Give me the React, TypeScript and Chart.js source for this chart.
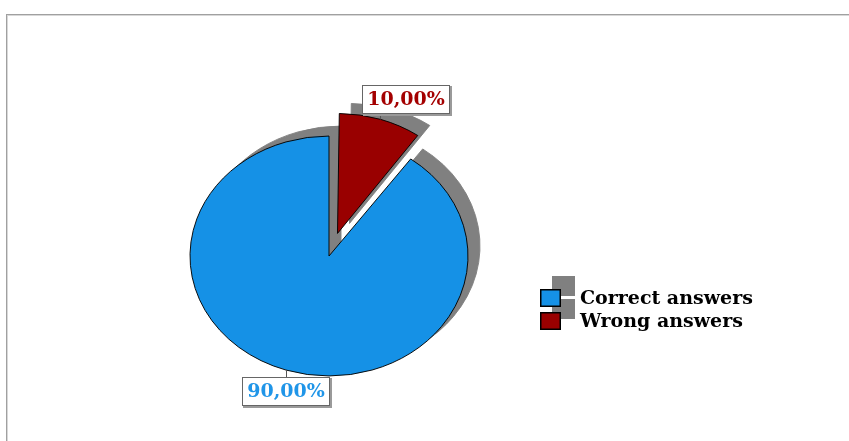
import React, { useEffect, useRef } from 'react';
import { Chart, registerables } from 'chart.js';

Chart.register(...registerables);

// ---- data ----
const categories = ['Correct answers', 'Wrong answers'];
const values = [90, 10];
const percentLabels = ['90,00%', '10,00%'];
const sliceColors = ['#1591e6', '#990000'];
const labelTextColors = ['#1f95e8', '#a40000'];
const sliceOffsets = [0, 110];

// ---- style ----
const W = 849;
const H = 441;
const Y_SCALE = 0.863;
const SHADOW_DX = 12;
const SHADOW_DY = -10;
const SHADOW = '#808080';
const FONT = "bold 19px 'DejaVu Serif'";
const LABEL_SHIFT = [
  { dx: 0, dy: 21 },
  { dx: 26, dy: -20 },
];

function arcFix(el: any) {
  const c = el.endAngle - el.startAngle;
  return 1 - Math.sin(Math.min(Math.PI, c));
}

function ellipse(ctx: CanvasRenderingContext2D, cx: number, cy: number) {
  ctx.translate(cx, cy);
  ctx.scale(1, Y_SCALE);
  ctx.translate(-cx, -cy);
}

const decor = {
  id: 'decor',
  afterDatasetsUpdate(chart: any) {
    const meta = chart.getDatasetMeta(0);
    meta.data.forEach((el: any) => {
      const off = (el.options.offset || 0) / 4;
      el.outerRadius = el.outerRadius - off * arcFix(el);
    });
  },
  beforeDraw(chart: any) {
    const ctx = chart.ctx as CanvasRenderingContext2D;
    ctx.save();
    ctx.fillStyle = '#ffffff';
    ctx.fillRect(0, 0, W, H);
    ctx.fillStyle = '#a0a0a0';
    ctx.fillRect(6, 14, W, 1);
    ctx.fillRect(6, 14, 1, H);
    ctx.fillStyle = '#d8d8d8';
    ctx.fillRect(7, 15, W, 1);
    ctx.fillRect(7, 15, 1, H);
    ctx.restore();
  },
  beforeDatasetsDraw(chart: any) {
    const ctx = chart.ctx as CanvasRenderingContext2D;
    const meta = chart.getDatasetMeta(0);
    const cx = meta.data[0].x;
    const cy = meta.data[0].y;
    ctx.save();
    ctx.translate(SHADOW_DX, SHADOW_DY);
    ellipse(ctx, cx, cy);
    meta.data.forEach((el: any) => {
      const o = el.options;
      el.options = Object.assign({}, o, { backgroundColor: SHADOW, borderColor: SHADOW });
      el.draw(ctx);
      el.options = o;
    });
    ctx.restore();
    ctx.save();
    ellipse(ctx, cx, cy);
  },
  afterDatasetsDraw(chart: any) {
    const ctx = chart.ctx as CanvasRenderingContext2D;
    ctx.restore();
    const meta = chart.getDatasetMeta(0);
    const cy = meta.data[0].y;
    ctx.save();
    meta.data.forEach((el: any, i: number) => {
      const a = (el.startAngle + el.endAngle) / 2;
      const t = (el.options.offset || 0) / 4;
      const r = el.outerRadius + t * arcFix(el);
      const ax = el.x + Math.cos(a) * (t + r);
      const ay = cy + (el.y + Math.sin(a) * (t + r) - cy) * Y_SCALE;
      ctx.font = FONT;
      const tw = ctx.measureText(percentLabels[i]).width;
      const bw = Math.round(tw + 10);
      const bh = 29;
      const bx = Math.round(ax + LABEL_SHIFT[i].dx - bw / 2);
      const by = Math.round(ay + LABEL_SHIFT[i].dy - bh / 2);
      // leader
      ctx.strokeStyle = '#555555';
      ctx.lineWidth = 1;
      ctx.beginPath();
      const lx = Math.round(ax) + 0.5;
      ctx.moveTo(lx, ay);
      ctx.lineTo(lx, ay < by ? by : by + bh);
      ctx.stroke();
      // box
      ctx.fillStyle = '#9a9a9a';
      ctx.fillRect(bx + 1, by + 1, bw + 1, bh + 1);
      ctx.fillStyle = '#ffffff';
      ctx.fillRect(bx, by, bw, bh);
      ctx.strokeStyle = '#666666';
      ctx.strokeRect(bx + 0.5, by + 0.5, bw - 1, bh - 1);
      ctx.fillStyle = labelTextColors[i];
      ctx.textAlign = 'center';
      ctx.textBaseline = 'middle';
      ctx.fillText(percentLabels[i], bx + bw / 2, by + bh / 2 + 1);
    });
    ctx.restore();
  },
  afterDraw(chart: any) {
    const ctx = chart.ctx as CanvasRenderingContext2D;
    const lx = 540;
    const ly0 = 289;
    const rowH = 23;
    const bw = 21;
    const bh = 18;
    ctx.save();
    ctx.fillStyle = SHADOW;
    categories.forEach((_, i) => {
      ctx.fillRect(lx + SHADOW_DX, ly0 + i * rowH - 13, bw + 2, bh + 2);
    });
    categories.forEach((c, i) => {
      const y = ly0 + i * rowH;
      ctx.fillStyle = sliceColors[i];
      ctx.fillRect(lx, y, bw, bh);
      ctx.strokeStyle = '#000000';
      ctx.lineWidth = 1.5;
      ctx.strokeRect(lx + 0.75, y + 0.75, bw - 1.5, bh - 1.5);
      ctx.fillStyle = '#000000';
      ctx.font = FONT;
      ctx.textAlign = 'left';
      ctx.textBaseline = 'middle';
      ctx.fillText(c, 580, y + bh / 2 + 1);
    });
    ctx.restore();
  },
};

export default function App() {
  const ref = useRef<HTMLCanvasElement | null>(null);
  useEffect(() => {
    if (!ref.current) return;
    const chart = new Chart(ref.current, {
      type: 'pie',
      data: {
        labels: categories,
        datasets: [
          {
            data: values,
            backgroundColor: sliceColors,
            borderColor: '#000000',
            borderWidth: 1,
            offset: sliceOffsets,
            clip: false,
          } as any,
        ],
      },
      options: {
        responsive: false,
        animation: false,
        events: [],
        radius: 139,
        rotation: 36,
        layout: { padding: { left: 0, right: 191, top: 71, bottom: 0 } },
        plugins: {
          legend: { display: false },
          tooltip: { enabled: false },
        },
      } as any,
      plugins: [decor],
    });
    return () => chart.destroy();
  }, []);
  return (
    <div style={{ position: 'fixed', left: 0, top: 0, width: W, height: H }}>
      <canvas ref={ref} width={W} height={H} style={{ display: 'block', width: W, height: H }} />
    </div>
  );
}
